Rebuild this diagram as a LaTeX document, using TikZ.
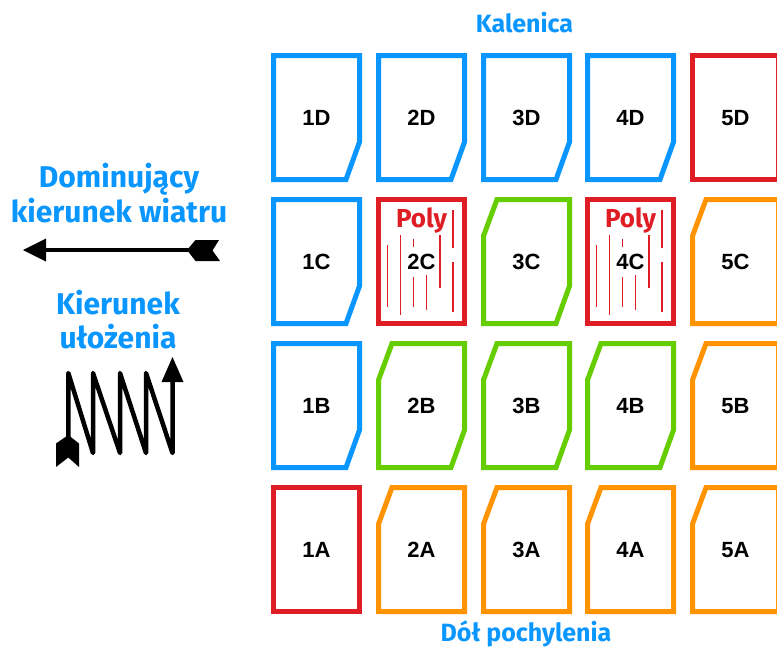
\documentclass[tikz,border=0pt]{standalone}
\usepackage{fontspec}
\setmainfont{Liberation Sans}
\newfontfamily\dinfont{Fira Sans}
\definecolor{cblue}{RGB}{10,150,255}
\definecolor{cgreen}{RGB}{102,206,0}
\definecolor{corange}{RGB}{255,147,0}
\definecolor{cred}{RGB}{222,30,36}
\tikzset{
  tileline/.style={line width=5pt, line join=miter},
  lbl/.style={font=\fontsize{22}{22}\selectfont\bfseries, text=black, inner sep=0pt},
  head/.style={font=\dinfont\bfseries\fontsize{30}{30}\selectfont, text=cblue, inner sep=0pt, anchor=base},
  smallhead/.style={head, font=\dinfont\bfseries\fontsize{25}{25}\selectfont},
  polytxt/.style={font=\dinfont\bfseries\fontsize{26}{26}\selectfont, text=cred, inner sep=0pt, anchor=base},
  hatch/.style={cred, line width=1.2pt},
  blacktrail/.style={line width=4.5pt, line join=round, line cap=round},
  bluetile/.pic={\draw[tileline,cblue] (2.5,2.5) -- (88.5,2.5) -- (88.5,89) -- (75,126.5) -- (2.5,126.5) -- cycle;},
  greentile/.pic={\draw[tileline,cgreen] (2.5,39) -- (16,2.5) -- (88.5,2.5) -- (88.5,89) -- (75,126.5) -- (2.5,126.5) -- cycle;},
  orangetile/.pic={\draw[tileline,corange] (2.5,39) -- (16,2.5) -- (88.5,2.5) -- (88.5,126.5) -- (2.5,126.5) -- cycle;},
  redtile/.pic={\draw[tileline,cred] (2.5,2.5) rectangle (88.5,126.5);},
  polyhatch/.pic={
    \draw[hatch] (11.5,48) -- (11.5,110);
    \draw[hatch] (24.5,38) -- (24.5,118);
    \draw[hatch] (37.5,42) -- (37.5,50);
    \draw[hatch] (37.5,80) -- (37.5,110);
    \draw[hatch] (50.5,78) -- (50.5,113);
    \draw[hatch] (64,38) -- (64,91);
    \draw[hatch] (77,13) -- (77,51);
    \draw[hatch] (77,65) -- (77,115);
  },
}
\begin{document}
\begin{tikzpicture}[x=1pt,y=-1pt]
\useasboundingbox (0,0) rectangle (777,649);
\clip (0,0) rectangle (777,649);
\fill[white] (0,0) rectangle (777,649);

% row D (top 53)
\pic at (271,53) {bluetile};
\pic at (376,53) {bluetile};
\pic at (481,53) {bluetile};
\pic at (585,53) {bluetile};
\pic at (690,53) {redtile};
% row C (top 197)
\pic at (271,197) {bluetile};
\pic at (376,197) {redtile};
\pic at (376,197) {polyhatch};
\pic at (481,197) {greentile};
\pic at (585,197) {redtile};
\pic at (585,197) {polyhatch};
\pic at (690,197) {orangetile};
% row B (top 341)
\pic at (271,341) {bluetile};
\pic at (376,341) {greentile};
\pic at (481,341) {greentile};
\pic at (585,341) {greentile};
\pic at (690,341) {orangetile};
% row A (top 485)
\pic at (271,485) {redtile};
\pic at (376,485) {orangetile};
\pic at (481,485) {orangetile};
\pic at (585,485) {orangetile};
\pic at (690,485) {orangetile};

% labels
\foreach \c/\x in {1/316.5,2/421.5,3/526.5,4/630.5,5/735.5}{
  \foreach \r/\y in {D/118,C/262,B/406,A/550}{
    \node[lbl] (t\c\r) at (\x,\y) {\c\r};
  }
}
\node[polytxt] (poly2) at (421.5,227) {Poly};
\node[polytxt] (poly4) at (630.5,227) {Poly};

% headings
\node[smallhead] (kal) at (524.5,32) {Kalenica};
\node[smallhead] (dol) at (526,641) {Dół pochylenia};
\node[head] (dom1) at (119,187) {Dominujący};
\node[head] (dom2) at (119,222) {kierunek wiatru};
\node[head] (kie1) at (118,314) {Kierunek};
\node[head] (kie2) at (118,348) {ułożenia};

% wind arrow
\coordinate (wtail) at (190,250);
\coordinate (whead) at (44,250);
\draw[line width=4pt] (wtail) -- (whead);
\fill (23,250) -- (46,238.5) -- (46,261.5) -- cycle;
\fill (187,250) -- (195.5,240) -- (219,240) -- (212.5,250.5) -- (220,261) -- (195.5,261) -- cycle;

% laying direction zigzag
\coordinate (zstart) at (68.3,437);
\coordinate (zend) at (172.5,380);
\draw[blacktrail] (zstart) -- (68.3,373) -- (93,453) -- (93,373) -- (120,453) -- (120,373) -- (146,453) -- (146,373) -- (172.5,453) -- (zend);
\fill (172.5,357) -- (161.5,382) -- (183.5,382) -- cycle;
\fill (68.3,435) -- (56,443.5) -- (56,467) -- (68.3,457.5) -- (79,467) -- (79,443.5) -- cycle;
\end{tikzpicture}
\end{document}
